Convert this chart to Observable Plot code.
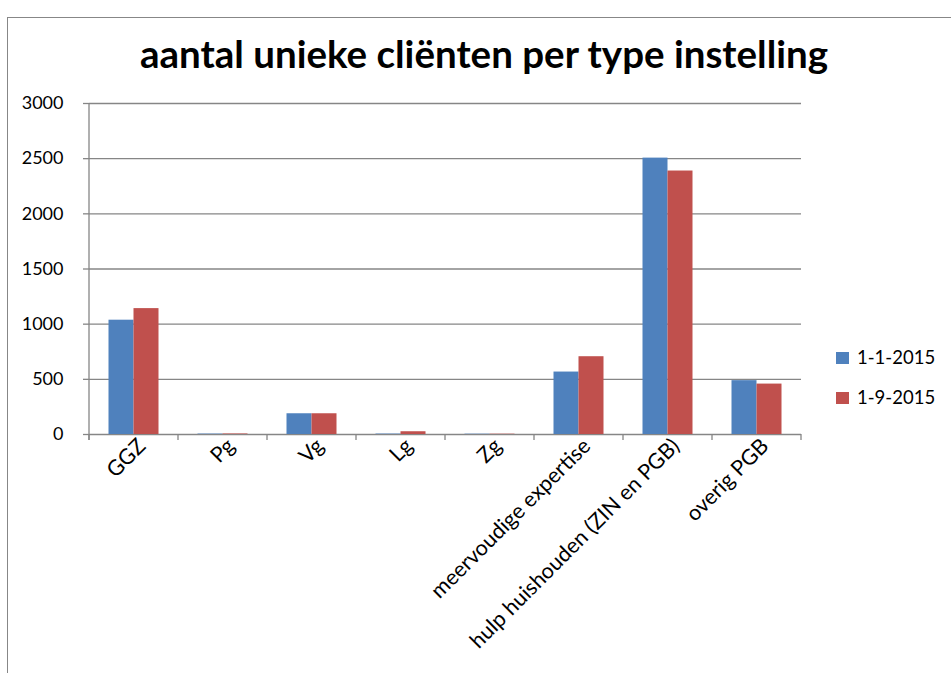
<!DOCTYPE html>
<html><head><meta charset="utf-8">
<script src="https://cdn.jsdelivr.net/npm/d3@7"></script>
<script src="https://cdn.jsdelivr.net/npm/@observablehq/plot@0.6"></script>
<style>
body{margin:0;background:#fff;}
#wrap{position:relative;width:951px;height:673px;overflow:hidden;font-family:Lato,sans-serif;background:#fff;}
#frame{position:absolute;left:7px;top:17px;width:980px;height:720px;border:1.5px solid #878787;}
#title{position:absolute;left:0;width:968px;top:30px;text-align:center;font-weight:bold;font-size:38.5px;color:#000;}
#chart{position:absolute;left:0;top:0;}
.leg{position:absolute;left:836px;font-size:18.5px;color:#000;height:14px;}
.leg span.sw{position:absolute;left:0;top:0;width:13px;height:12px;}
.leg span.tx{position:absolute;left:21px;top:-6px;white-space:nowrap;}
</style>
</head><body>
<div id="wrap">
  <div id="frame"></div>
  <div id="title"></div>
  <div id="chart"></div>
  <div id="legend"></div>
</div>
<script>
const titleText = "aantal unieke cliënten per type instelling";
const categories = ["GGZ","Pg","Vg","Lg","Zg","meervoudige expertise","hulp huishouden (ZIN en PGB)","overig PGB"];
const seriesNames = ["1-1-2015","1-9-2015"];
const seriesColors = ["#4F81BD","#C0504D"];
const valuesJan = [1036, 4, 188, 4, 3, 566, 2505, 488];
const valuesSep = [1141, 5, 188, 25, 3, 705, 2388, 457];
const yTicks = [0, 500, 1000, 1500, 2000, 2500, 3000];

const data = [];
categories.forEach((c, i) => {
  data.push({cat: c, series: seriesNames[0], value: valuesJan[i]});
  data.push({cat: c, series: seriesNames[1], value: valuesSep[i]});
});

document.getElementById("title").textContent = titleText;

const gridColor = "#868686";

function axisLines(index, scales, values, dims) {
  const x = scales.x, y = scales.y;
  const left = dims.marginLeft, right = dims.width - dims.marginRight;
  const bw = x.bandwidth ? x.bandwidth() : (right - left) / categories.length;
  const y0 = y(0), yTop = y(yTicks[yTicks.length - 1]);
  const g = d3.create("svg:g").attr("stroke", gridColor).attr("stroke-width", 1.3);
  g.append("line").attr("x1", left).attr("x2", left).attr("y1", yTop).attr("y2", y0 + 6);
  const bounds = categories.map(c => x(c)).concat([x(categories[categories.length - 1]) + bw]);
  for (const b of bounds) {
    g.append("line").attr("x1", b).attr("x2", b).attr("y1", y0).attr("y2", y0 + 6);
  }
  return g.node();
}

const plot = Plot.plot({
  width: 951,
  height: 673,
  marginLeft: 89,
  marginRight: 150,
  marginTop: 103,
  marginBottom: 239,
  style: {fontFamily: "Lato, sans-serif", fontSize: "18px", background: "transparent", color: "#000"},
  x: {domain: categories, padding: 0, axis: null},
  y: {domain: [0, 3000], axis: null},
  marks: [
    Plot.ruleY(yTicks, {stroke: gridColor, strokeWidth: 1.3}),
    Plot.barY(data.filter(d => d.series === seriesNames[0]), {x: "cat", y: "value", fill: seriesColors[0], insetLeft: 19.5, insetRight: 44.5}),
    Plot.barY(data.filter(d => d.series === seriesNames[1]), {x: "cat", y: "value", fill: seriesColors[1], insetLeft: 44.5, insetRight: 19.5}),
    Plot.axisY({ticks: yTicks, tickSize: 6, tickPadding: 20, stroke: gridColor, strokeWidth: 1.3, fill: "#000", fontSize: 18, tickFormat: d => String(d), label: null}),
    Plot.axisX({tickSize: 0, tickRotate: -45, tickPadding: 8, dx: 8, fill: "#000", fontSize: 21.5, label: null}),
    axisLines
  ]
});
document.getElementById("chart").appendChild(plot);

const legend = document.getElementById("legend");
const legTops = [352, 392];
seriesNames.forEach((s, i) => {
  const item = document.createElement("div");
  item.className = "leg";
  item.style.top = legTops[i] + "px";
  item.innerHTML = `<span class="sw" style="background:${seriesColors[i]}"></span><span class="tx">${s}</span>`;
  legend.appendChild(item);
});
</script>
</body></html>
